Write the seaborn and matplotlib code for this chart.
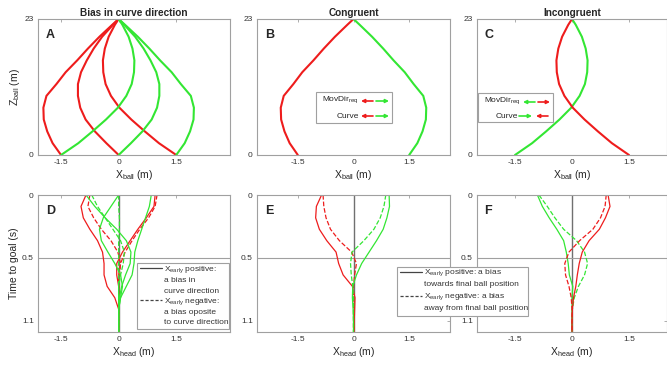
import numpy as np
import pandas as pd
import seaborn as sns
import matplotlib.pyplot as plt
from matplotlib.patches import Rectangle

# ---- ball paths (A-C): lateral position x (m) at each distance z (m)
z_ball = [0, 2, 4, 6, 8, 10, 12, 14, 16, 18, 20, 22, 23]
red_outer = [-1.5, -1.72, -1.86, -1.95, -1.96, -1.88, -1.62, -1.38, -1.08, -0.8, -0.5, -0.17, 0]
red_mid = [0, -0.32, -0.62, -0.86, -1.0, -1.06, -1.06, -0.98, -0.83, -0.65, -0.43, -0.15, 0]
red_inner = [1.5, 1.05, 0.68, 0.33, 0.02, -0.2, -0.34, -0.4, -0.41, -0.36, -0.26, -0.1, 0]
green_outer = [1.5, 1.72, 1.86, 1.95, 1.96, 1.88, 1.62, 1.38, 1.08, 0.8, 0.5, 0.17, 0]
green_mid = [0, 0.32, 0.62, 0.86, 1.0, 1.06, 1.06, 0.98, 0.83, 0.65, 0.43, 0.15, 0]
green_inner = [-1.5, -1.05, -0.68, -0.33, -0.02, 0.2, 0.34, 0.4, 0.41, 0.36, 0.26, 0.1, 0]

# ---- head paths (D-F): x_head (m) at each time to goal (s)
t_goal = [0, 0.1, 0.2, 0.3, 0.4, 0.5, 0.6, 0.7, 0.8, 0.9, 1.0, 1.1, 1.2]
# D: bias in curve direction
d_red_solid_l = [-0.85, -0.98, -0.92, -0.75, -0.55, -0.42, -0.38, -0.38, -0.3, -0.1, 0.0, 0.0, 0.0]
d_red_solid_r = [0.95, 0.92, 0.72, 0.5, 0.3, 0.1, -0.05, -0.05, 0.0, 0.0, 0.0, 0.0, 0.0]
d_red_dash_l = [-0.75, -0.8, -0.65, -0.45, -0.2, -0.02, 0.05, 0.02, 0.0, 0.0, 0.0, 0.0, 0.0]
d_red_dash_r = [1.0, 0.95, 0.78, 0.55, 0.35, 0.17, 0.05, 0.0, 0.0, 0.0, 0.0, 0.0, 0.0]
d_green_solid_l = [-0.85, -0.62, -0.35, -0.05, 0.2, 0.32, 0.3, 0.18, 0.08, 0.02, 0.0, 0.0, 0.0]
d_green_solid_c = [0.0, -0.2, -0.4, -0.5, -0.45, -0.28, -0.1, 0.05, 0.1, 0.05, 0.0, 0.0, 0.0]
d_green_solid_r = [0.85, 0.8, 0.7, 0.6, 0.5, 0.42, 0.4, 0.35, 0.2, 0.05, 0.0, 0.0, 0.0]
d_green_dash_l = [-0.7, -0.55, -0.35, -0.15, 0.05, 0.15, 0.12, 0.05, 0.0, 0.0, 0.0, 0.0, 0.0]
d_green_dash_c = [0.0, 0.0, 0.02, 0.02, 0.0, 0.0, 0.0, 0.0, 0.0, 0.0, 0.0, 0.0, 0.0]
# E: congruent
e_red_solid = [-0.86, -1.0, -1.02, -0.92, -0.72, -0.47, -0.4, -0.28, -0.03, 0.04, 0.03, 0.02, 0.02]
e_red_dash = [-0.82, -0.8, -0.74, -0.62, -0.38, -0.05, 0.08, 0.03, 0.0, 0.0, 0.0, 0.0, 0.0]
e_green_solid = [0.96, 0.97, 0.9, 0.8, 0.62, 0.42, 0.22, 0.08, -0.02, -0.03, -0.01, 0.0, 0.0]
e_green_dash = [0.87, 0.82, 0.72, 0.55, 0.28, -0.04, -0.08, -0.06, -0.02, 0.0, 0.0, 0.0, 0.0]
# F: incongruent
f_green_solid = [-0.91, -0.78, -0.6, -0.4, -0.22, -0.15, -0.1, -0.07, 0.02, 0.0, 0.0, 0.0, 0.0]
f_green_dash = [-0.87, -0.65, -0.45, -0.22, 0.12, 0.33, 0.41, 0.33, 0.17, 0.06, 0.01, 0.0, 0.0]
f_red_solid = [0.95, 1.0, 0.88, 0.72, 0.45, 0.27, 0.19, 0.14, 0.1, 0.04, 0.01, 0.0, 0.0]
f_red_dash = [0.9, 0.87, 0.75, 0.55, 0.2, -0.08, -0.19, -0.17, -0.08, -0.02, 0.0, 0.0, 0.0]

RED = '#ee1c1c'
GREEN = '#33e633'
GRAY = '#a0a0a0'

sns.set_theme(style='white')
plt.rcParams['font.family'] = ['Liberation Sans', 'DejaVu Sans']
plt.rcParams['mathtext.fontset'] = 'custom'
plt.rcParams['mathtext.rm'] = 'Liberation Sans'
plt.rcParams['mathtext.it'] = 'Liberation Sans'

W, H = 667, 365
fig = plt.figure(figsize=(W / 100, H / 100), dpi=100)


def px_axes(left, top, right, bottom):
    return fig.add_axes([left / W, 1 - bottom / H, (right - left) / W, (bottom - top) / H])


def fxy(x, y):
    return x / W, 1 - y / H


def style_axes(ax):
    for s in ax.spines.values():
        s.set_color(GRAY)
        s.set_linewidth(0.8)
    ax.tick_params(direction='in', length=2.5, width=0.6, color=GRAY, labelsize=6,
                   labelcolor='#333333', top=True, right=True, pad=3)


def path(ax, xs, ys, color, ls='-', lw=1.5):
    df = pd.DataFrame({'x': xs, 'y': ys})
    sns.lineplot(data=df, x='x', y='y', sort=False, estimator=None, ax=ax,
                 color=color, linestyle=ls, linewidth=lw)


cols = [(38, 230, (-2.1, 2.9)), (257, 450, (-2.6, 2.6)), (477, 667, (-2.5, 2.5))]
top_axes = [px_axes(l, 19, r, 155) for l, r, _ in cols]
bot_axes = [px_axes(l, 195, r, 332) for l, r, _ in cols]

# ---- top row: ball paths
axA, axB, axC = top_axes
for xs, c in [(red_outer, RED), (red_mid, RED), (red_inner, RED),
              (green_outer, GREEN), (green_mid, GREEN), (green_inner, GREEN)]:
    path(axA, xs, z_ball, c)
path(axB, red_outer, z_ball, RED)
path(axB, green_outer, z_ball, GREEN)
path(axC, green_inner, z_ball, GREEN)
path(axC, red_inner, z_ball, RED)

titles = ['Bias in curve direction', 'Congruent', 'Incongruent']
for ax, (l, r, xl), title, letter in zip(top_axes, cols, titles, 'ABC'):
    ax.set_xlim(xl)
    ax.set_ylim(0, 23)
    ax.set_xticks([-1.5, 0, 1.5])
    ax.set_xticklabels(['-1.5', '0', '1.5'])
    ax.set_yticks([0, 23])
    ax.set_xlabel(r'X$_{\rm ball}$ (m)', fontsize=7.5, labelpad=1)
    ax.set_ylabel('')
    ax.set_title(title, fontsize=7.2, fontweight='bold', pad=2)
    ax.text(0.04, 0.93, letter, transform=ax.transAxes, fontsize=9, fontweight='bold',
            va='top', ha='left')
    style_axes(ax)
axA.set_ylabel(r'Z$_{\rm ball}$ (m)', fontsize=7.5, labelpad=2)

# ---- bottom row: head paths
axD, axE, axF = bot_axes
for xs, c, ls in [(d_red_solid_l, RED, '-'), (d_red_solid_r, RED, '-'),
                  (d_red_dash_l, RED, '--'), (d_red_dash_r, RED, '--'),
                  (d_green_solid_l, GREEN, '-'), (d_green_solid_c, GREEN, '-'),
                  (d_green_solid_r, GREEN, '-'), (d_green_dash_l, GREEN, '--'),
                  (d_green_dash_c, GREEN, '--')]:
    path(axD, xs, t_goal, c, ls, 0.9)
for xs, c, ls in [(e_red_solid, RED, '-'), (e_red_dash, RED, '--'),
                  (e_green_solid, GREEN, '-'), (e_green_dash, GREEN, '--')]:
    path(axE, xs, t_goal, c, ls, 0.9)
for xs, c, ls in [(f_green_solid, GREEN, '-'), (f_green_dash, GREEN, '--'),
                  (f_red_solid, RED, '-'), (f_red_dash, RED, '--')]:
    path(axF, xs, t_goal, c, ls, 0.9)

for ax, (l, r, xl), letter in zip(bot_axes, cols, 'DEF'):
    ax.axvline(0, color='#707070', lw=1.0, zorder=1)
    ax.axhline(0.55, color=GRAY, lw=0.8, zorder=1)
    ax.set_xlim(xl)
    ax.set_ylim(1.2, 0)
    ax.set_xticks([-1.5, 0, 1.5])
    ax.set_xticklabels(['-1.5', '0', '1.5'])
    ax.set_yticks([0, 0.55, 1.1])
    ax.set_yticklabels(['0', '0.5', '1.1'])
    ax.set_xlabel(r'X$_{\rm head}$ (m)', fontsize=7.5, labelpad=1)
    ax.set_ylabel('')
    ax.text(0.04, 0.93, letter, transform=ax.transAxes, fontsize=9, fontweight='bold',
            va='top', ha='left')
    style_axes(ax)
axD.set_ylabel('Time to goal (s)', fontsize=7.5, labelpad=2)

# ---- legends drawn in figure pixel space
def box(x0, y0, x1, y1):
    fig.patches.append(Rectangle(fxy(x0, y1), (x1 - x0) / W, (y1 - y0) / H,
                                 transform=fig.transFigure, facecolor='white',
                                 edgecolor=GRAY, lw=0.8, zorder=10))


def arrow(x0, x1, y, color):
    fig.add_artist(plt.Annotation('', xy=fxy(x1, y), xytext=fxy(x0, y),
                                  xycoords='figure fraction', textcoords='figure fraction',
                                  arrowprops=dict(arrowstyle='-|>', color=color, lw=1.2,
                                                  mutation_scale=5, shrinkA=0, shrinkB=0),
                                  zorder=12))


def ftext(x, y, s, **kw):
    fig.text(*fxy(x, y), s, fontsize=6, va='center', zorder=12, **kw)


# B legend
box(316, 92, 392, 123)
ftext(359, 100, r'MovDir$_{\rm req}$', ha='right')
arrow(373, 361, 101, RED)
arrow(376, 389, 101, GREEN)
ftext(359, 116, 'Curve', ha='right')
arrow(373, 361, 116, RED)
arrow(376, 389, 116, GREEN)

# C legend
box(478, 93, 553, 122)
ftext(521, 101, r'MovDir$_{\rm req}$', ha='right')
arrow(535, 523, 102, GREEN)
arrow(538, 550, 102, RED)
ftext(518, 116, 'Curve', ha='right')
arrow(519, 532, 116, GREEN)
arrow(548, 536, 116, RED)

# D legend
box(137, 263, 229, 329)
lines_d = [r'X$_{\rm early}$ positive:', 'a bias in', 'curve direction',
           r'X$_{\rm early}$ negative:', 'a bias oposite', 'to curve direction']
for i, s in enumerate(lines_d):
    ftext(164, 270 + i * 10.6, s, ha='left', color='#333333')
fig.add_artist(plt.Line2D([140 / W, 162 / W], [1 - 268 / H] * 2, color='#444444', lw=0.9, zorder=12))
fig.add_artist(plt.Line2D([140 / W, 162 / W], [1 - 300 / H] * 2, color='#444444', lw=0.9,
                          ls='--', dashes=(2.5, 1.5), zorder=12))

# E/F legend
box(397, 267, 528, 316)
lines_e = [r'X$_{\rm early}$ positive: a bias', 'towards final ball position',
           r'X$_{\rm early}$ negative: a bias', 'away from final ball position']
for i, s in enumerate(lines_e):
    ftext(424, 273 + i * 12, s, ha='left', color='#333333')
fig.add_artist(plt.Line2D([400 / W, 422 / W], [1 - 272 / H] * 2, color='#444444', lw=0.9, zorder=12))
fig.add_artist(plt.Line2D([400 / W, 422 / W], [1 - 296 / H] * 2, color='#444444', lw=0.9,
                          ls='--', dashes=(2.5, 1.5), zorder=12))

fig.savefig('out.png', dpi=100)
